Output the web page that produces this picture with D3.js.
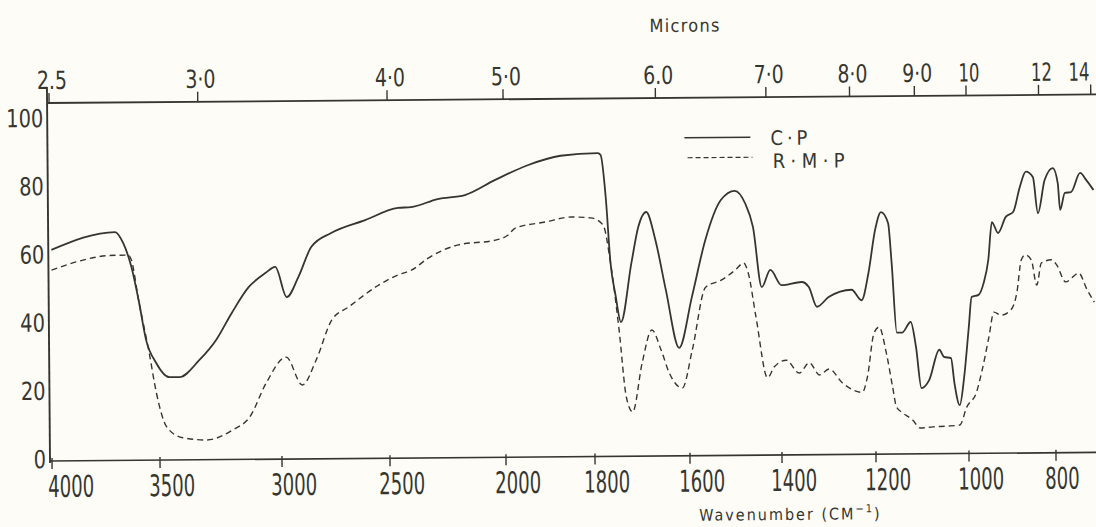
<!DOCTYPE html>
<html>
<head>
<meta charset="utf-8">
<script src="https://cdn.jsdelivr.net/npm/d3@7"></script>
<style>
  html, body { margin: 0; padding: 0; background: #fdfcf6; }
  svg { display: block; }
  text { font-family: "DejaVu Sans Condensed", "Liberation Sans Narrow", "DejaVu Sans", sans-serif; fill: #363631; }
</style>
</head>
<body>
<svg id="chart" width="1096" height="527"></svg>
<script>
// ---- data ----
const cpWavenumber = [3995,3699,3662,3625,3593,3560,3514,3459,3418,3336,3266,3201,3131,3062,3021,2972,2917,2856,2764,2606,2457,2401,2285,2168,2039,1946,1872,1789,1783,1773,1764,1754,1743,1720,1705,1688,1669,1648,1621,1593,1563,1528,1498,1476,1459,1441,1422,1398,1355,1340,1323,1298,1249,1228,1213,1198,1185,1170,1163,1153,1142,1123,1112,1101,1084,1062,1052,1037,1030,1019,1009,998,991,975,963,952,943,929,911,894,878,864,848,837,821,802,791,786,775,761,740,726,710];
const cpTransmittance = [61.3,66.4,63.1,56.1,46.4,34.7,27.9,23.7,23.7,28.6,34.5,42.4,49.9,54.0,55.8,46.9,52.8,61.6,65.6,69.3,72.8,73.0,75.3,76.4,80.7,85.0,87.7,88.4,87.8,75.5,56.2,46.7,38.8,56.1,66.6,71.0,62.7,48.1,31.1,46.0,62.6,74.4,77.0,73.4,66.3,48.7,53.7,49.2,50.1,48.6,42.8,45.6,47.7,44.6,52.5,65.2,70.4,67.2,55.5,35.0,35.0,38.1,30.7,18.7,21.1,29.9,27.8,27.4,20.1,13.6,21.8,36.5,45.3,45.9,49.4,56.1,67.2,64.0,68.7,70.1,77.5,81.9,80.3,69.7,79.4,82.9,78.5,70.6,75.6,75.8,81.4,79.3,76.4];

const rmpWavenumber = [3995,3699,3639,3625,3593,3546,3514,3471,3406,3307,3201,3131,3062,2977,2903,2838,2764,2685,2546,2457,2401,2328,2198,2039,1991,1975,1908,1849,1805,1779,1764,1747,1733,1720,1699,1678,1659,1642,1615,1593,1563,1528,1498,1480,1470,1454,1430,1415,1389,1362,1340,1319,1298,1270,1228,1217,1202,1191,1176,1163,1155,1142,1120,1105,1077,1045,1019,1004,982,968,952,940,924,901,887,876,867,853,841,830,807,795,775,745,726,710];
const rmpTransmittance = [55.4,59.6,59.6,58.2,46.4,30.9,19.1,9.1,5.9,5.2,8.1,11.8,21.8,29.3,21.1,28.4,40.1,43.9,50.2,53.2,54.5,58.0,61.8,63.1,64.6,66.6,68.3,69.7,69.4,67.3,56.2,36.4,16.8,12.4,26.8,36.4,30.5,23.7,19.3,30.5,48.8,50.9,53.8,55.8,52.8,39.9,22.1,25.3,27.2,23.4,26.4,22.8,24.5,20.4,17.6,22.0,35.0,36.7,29.1,19.1,13.2,11.5,9.3,7.0,7.3,7.5,7.8,13.0,17.2,23.9,33.5,40.8,39.9,41.4,46.4,56.1,57.5,56.0,48.6,55.1,56.0,54.5,49.5,52.0,47.1,43.5];

const wavenumberTicks = [4000,3500,3000,2500,2000,1800,1600,1400,1200,1000,800];
const micronTicks = [2.5,3.0,4.0,5.0,6.0,7.0,8.0,9.0,10,12,14];
const micronLabels = ["2.5","3·0","4·0","5·0","6.0","7·0","8·0","9·0","10","12","14"];
const yTicks = [0,20,40,60,80,100];
const seriesNames = ["C·P","R·M·P"];

// ---- layout ----
const svg = d3.select("#chart");
const W = 1096, H = 527;
const mLeft = 50, mTop = 103, mBottom = 461, mRight = 1102;
const ink = "#363631";

// hand-drawn chart: irregular tick spacing -> polylinear scale through the drawn ticks
const x = d3.scaleLinear()
  .domain([4000,3500,3000,2500,2000,1800,1600,1400,1200,1000,800,700])
  .range([52,160,282,390,506,595,690,782,876,969,1056,1100]);
const y = d3.scaleLinear().domain([0,100]).range([459,118]);

svg.append("rect").attr("width", W).attr("height", H).attr("fill", "#fdfcf6");

svg.append("defs").append("clipPath").attr("id","plot")
  .append("rect").attr("x", mLeft).attr("y", mTop).attr("width", mRight - mLeft).attr("height", mBottom - mTop);

// the scanned sheet is slightly rotated
const g = svg.append("g").attr("transform", "rotate(-0.47, 50, 460)");

// frame
g.append("line").attr("x1", mLeft).attr("x2", mRight).attr("y1", mTop).attr("y2", mTop)
  .attr("stroke", ink).attr("stroke-width", 1.8);
g.append("line").attr("x1", mLeft).attr("x2", mRight).attr("y1", mBottom).attr("y2", mBottom)
  .attr("stroke", ink).attr("stroke-width", 1.6);
g.append("line").attr("x1", mLeft).attr("x2", mLeft).attr("y1", mTop - 16).attr("y2", mBottom + 2)
  .attr("stroke", ink).attr("stroke-width", 1.9);

// bottom axis (wavenumber)
const bAxis = g.append("g");
bAxis.selectAll("line").data(wavenumberTicks).join("line")
  .attr("x1", d => x(d)).attr("x2", d => x(d))
  .attr("y1", mBottom - 3).attr("y2", mBottom + 8)
  .attr("stroke", ink).attr("stroke-width", 1.4);
bAxis.selectAll("text").data(wavenumberTicks).join("text")
  .attr("x", d => Math.max(48, x(d) - 11)).attr("y", 497)
  .attr("font-size", 30)
  .attr("textLength", d => String(d).length * 11.5).attr("lengthAdjust", "spacingAndGlyphs")
  .text(d => d);

g.append("text").attr("x", 790).attr("y", 526).attr("text-anchor", "middle")
  .attr("font-size", 16).attr("letter-spacing", 2)
  .html('Wavenumber (CM<tspan dy="-7" font-size="11">−1</tspan><tspan dy="7">)</tspan>');

// top axis (microns)
const tAxis = g.append("g");
tAxis.selectAll("line").data(micronTicks).join("line")
  .attr("x1", d => x(10000 / d)).attr("x2", d => x(10000 / d))
  .attr("y1", mTop).attr("y2", mTop - 10)
  .attr("stroke", ink).attr("stroke-width", 1.4);
tAxis.selectAll("text").data(micronTicks).join("text")
  .attr("x", d => Math.min(1082, x(10000 / d) + 3)).attr("y", 89)
  .attr("text-anchor", "middle").attr("font-size", 25)
  .attr("textLength", (d, i) => micronLabels[i].length === 2 ? 21 : 30)
  .attr("lengthAdjust", "spacingAndGlyphs")
  .text((d, i) => micronLabels[i]);

g.append("text").attr("x", 688).attr("y", 37).attr("text-anchor", "middle")
  .attr("font-size", 18).attr("textLength", 70).attr("lengthAdjust", "spacing")
  .text("Microns");

// left axis labels
g.append("g").selectAll("text").data(yTicks).join("text")
  .attr("x", 46).attr("y", d => y(d)).attr("dy", "0.36em")
  .attr("text-anchor", "end").attr("font-size", 25)
  .attr("textLength", d => String(d).length * 12.3).attr("lengthAdjust", "spacingAndGlyphs")
  .text(d => d);

// curves
const line = d3.line().x(d => x(d[0])).y(d => y(d[1])).curve(d3.curveMonotoneX);
const plot = g.append("g").attr("clip-path", "url(#plot)");

plot.append("path")
  .datum(cpWavenumber.map((w, i) => [w, cpTransmittance[i]]))
  .attr("d", line).attr("fill", "none").attr("stroke", ink).attr("stroke-width", 1.8)
  .attr("stroke-linejoin", "round");

plot.append("path")
  .datum(rmpWavenumber.map((w, i) => [w, rmpTransmittance[i]]))
  .attr("d", line).attr("fill", "none").attr("stroke", ink).attr("stroke-width", 1.4)
  .attr("stroke-dasharray", "6,4");

// legend
const lg = g.append("g");
lg.append("line").attr("x1", 687).attr("x2", 753).attr("y1", 143).attr("y2", 143)
  .attr("stroke", ink).attr("stroke-width", 1.5);
lg.append("line").attr("x1", 690).attr("x2", 755).attr("y1", 163).attr("y2", 163)
  .attr("stroke", ink).attr("stroke-width", 1.2).attr("stroke-dasharray", "5,3");
lg.append("text").attr("x", 773).attr("y", 151).attr("font-size", 20)
  .attr("textLength", 37).attr("lengthAdjust", "spacing").text(seriesNames[0]);
lg.append("text").attr("x", 775).attr("y", 174).attr("font-size", 20)
  .attr("textLength", 72).attr("lengthAdjust", "spacing").text(seriesNames[1]);
</script>
</body>
</html>
